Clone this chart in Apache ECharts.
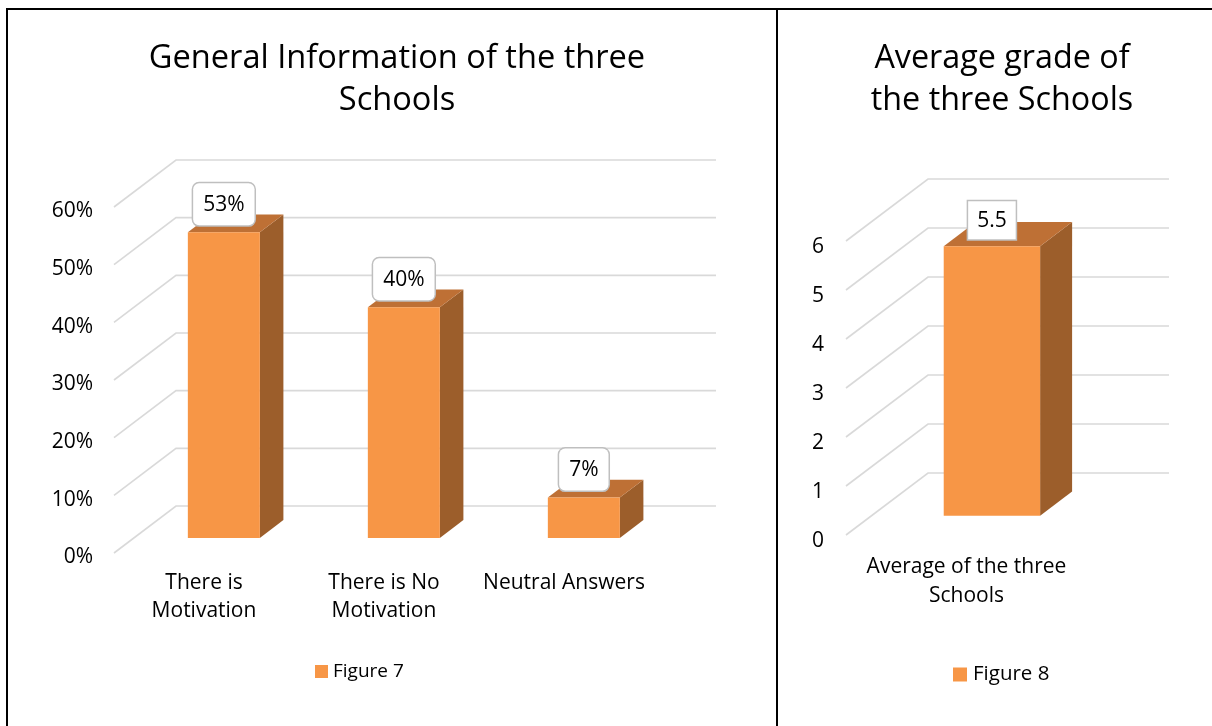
<!DOCTYPE html>
<html><head><meta charset="utf-8">
<script src="https://cdn.jsdelivr.net/npm/echarts@6/dist/echarts.min.js"></script>
<style>html,body{margin:0;padding:0;background:#fff}#c{width:1212px;height:726px}</style>
</head><body><div id="c"></div>
<script>
// ---- data ----
const leftTitle = 'General Information of the three\nSchools';
const leftCategories = ['There is\nMotivation', 'There is No\nMotivation', 'Neutral Answers'];
const leftValues = [0.53, 0.40, 0.07];
const leftLabels = ['53%', '40%', '7%'];
const leftTicks = [0, 0.1, 0.2, 0.3, 0.4, 0.5, 0.6];
const leftSeriesName = 'Figure 7';

const rightTitle = 'Average grade of\nthe three Schools';
const rightCategories = ['Average of the three\nSchools'];
const rightValues = [5.5];
const rightLabels = ['5.5'];
const rightTicks = [0, 1, 2, 3, 4, 5, 6];
const rightSeriesName = 'Figure 8';

// ---- style ----
const FONT = 'Open Sans';
const TEXT = '#000';
const FRONT = '#F79646', TOP = '#BE7035', SIDE = '#9C5E2B', GRIDC = '#D9D9D9';
const FS = 21;

function wallRenderer(depth) {
  return function (params, api) {
    const cs = params.coordSys;
    const y = api.coord([0, api.value(1)])[1];
    const x0 = cs.x;
    return {
      type: 'polyline', silent: true,
      shape: { points: [[x0, y], [x0 + depth[0], y + depth[1]], [x0 + cs.width + depth[0], y + depth[1]]] },
      style: { stroke: GRIDC, lineWidth: 1.6, fill: null }
    };
  };
}

function barRenderer(depth, d0, d1, frac, labels, radius, pad) {
  return function (params, api) {
    const i = api.value(0), v = api.value(1);
    const base = api.coord([i, 0]);
    const topP = api.coord([i, v]);
    const band = api.size([1, 0])[0];
    const w = band * frac;
    const ox = depth[0] * d0, oy = depth[1] * d0;
    const dx = depth[0] * (d1 - d0), dy = depth[1] * (d1 - d0);
    const xl = base[0] + ox - w / 2, xr = xl + w;
    const yb = base[1] + oy, yt = topP[1] + oy;
    return {
      type: 'group', children: [
        { type: 'polygon', shape: { points: [[xr, yt], [xr + dx, yt + dy], [xr + dx, yb + dy], [xr, yb]] }, style: { fill: SIDE } },
        { type: 'polygon', shape: { points: [[xl, yt], [xr, yt], [xr + dx, yt + dy], [xl + dx, yt + dy]] }, style: { fill: TOP } },
        { type: 'rect', shape: { x: xl, y: yt, width: w, height: yb - yt }, style: { fill: FRONT } },
        {
          type: 'text', x: (xl + xr) / 2, y: yt - 7, z2: 10,
          style: {
            text: labels[params.dataIndex], fontSize: FS, fontFamily: FONT, fill: TEXT,
            align: 'center', verticalAlign: 'bottom',
            backgroundColor: '#fff', borderColor: '#BFBFBF', borderWidth: 1.5,
            borderRadius: radius, padding: pad
          }
        }
      ]
    };
  };
}

const axisText = { fontSize: FS, fontFamily: FONT, color: TEXT };

const option = {
  animation: false,
  backgroundColor: '#fff',
  title: [
    { text: leftTitle, left: 392, top: 33, textAlign: 'center',
      textStyle: { fontSize: 32.6, fontWeight: 'normal', fontFamily: FONT, color: TEXT, lineHeight: 42 } },
    { text: rightTitle, left: 997, top: 33, textAlign: 'center',
      textStyle: { fontSize: 32.3, fontWeight: 'normal', fontFamily: FONT, color: TEXT, lineHeight: 42 } }
  ],
  legend: [
    { left: 310, top: 657, itemWidth: 13, itemHeight: 13, itemGap: 10,
      data: [{ name: leftSeriesName, icon: 'rect', itemStyle: { color: FRONT } }],
      textStyle: { fontSize: 19, fontFamily: FONT, color: TEXT, padding: [0, 0, 0, 0] } },
    { left: 948, top: 659, itemWidth: 14, itemHeight: 14, itemGap: 10,
      data: [{ name: rightSeriesName, icon: 'rect', itemStyle: { color: FRONT } }],
      textStyle: { fontSize: 20.5, fontFamily: FONT, color: TEXT, padding: [0, 0, 0, 1] } }
  ],
  grid: [
    { left: 114, top: 207, width: 540, height: 346 },
    { left: 846, top: 241, width: 241, height: 294 }
  ],
  xAxis: [
    { type: 'category', gridIndex: 0, data: leftCategories,
      axisLine: { show: false }, axisTick: { show: false }, splitLine: { show: false },
      axisLabel: Object.assign({ interval: 0, margin: 16, lineHeight: 28 }, axisText) },
    { type: 'category', gridIndex: 1, data: rightCategories,
      axisLine: { show: false }, axisTick: { show: false }, splitLine: { show: false },
      axisLabel: Object.assign({ interval: 0, margin: 18, lineHeight: 29 }, axisText) }
  ],
  yAxis: [
    { type: 'value', gridIndex: 0, min: 0, max: 0.6, interval: 0.1,
      axisLine: { show: false }, axisTick: { show: false }, splitLine: { show: false },
      axisLabel: Object.assign({ margin: 21, verticalAlign: 'top', lineHeight: 9,
        formatter: v => Math.round(v * 100) + '%' }, axisText) },
    { type: 'value', gridIndex: 1, min: 0, max: 6, interval: 1,
      axisLine: { show: false }, axisTick: { show: false }, splitLine: { show: false },
      axisLabel: Object.assign({ margin: 22, verticalAlign: 'top', lineHeight: 12 }, axisText) }
  ],
  series: [
    { type: 'custom', xAxisIndex: 0, yAxisIndex: 0, z: 1, silent: true,
      renderItem: wallRenderer([62, -47]), data: leftTicks.map(v => [0, v]) },
    { type: 'custom', name: leftSeriesName, xAxisIndex: 0, yAxisIndex: 0, z: 5,
      itemStyle: { color: FRONT },
      renderItem: barRenderer([62, -47], 0.32, 0.70, 0.4, leftLabels, 6, [11, 10, 10, 10]),
      data: leftValues.map((v, i) => [i, v]) },
    { type: 'custom', xAxisIndex: 1, yAxisIndex: 1, z: 1, silent: true,
      renderItem: wallRenderer([82, -62]), data: rightTicks.map(v => [0, v]) },
    { type: 'custom', name: rightSeriesName, xAxisIndex: 1, yAxisIndex: 1, z: 5,
      itemStyle: { color: FRONT },
      renderItem: barRenderer([82, -62], 0.31, 0.70, 0.4, rightLabels, 0, [9, 9, 8, 9]),
      data: rightValues.map((v, i) => [i, v]) }
  ],
  graphic: [
    { type: 'line', shape: { x1: 6, y1: 9, x2: 1212, y2: 9 }, style: { stroke: '#000', lineWidth: 2 }, z: 100 },
    { type: 'line', shape: { x1: 7, y1: 8, x2: 7, y2: 726 }, style: { stroke: '#000', lineWidth: 2 }, z: 100 },
    { type: 'line', shape: { x1: 777, y1: 8, x2: 777, y2: 726 }, style: { stroke: '#000', lineWidth: 2 }, z: 100 }
  ]
};

const chart = echarts.init(document.getElementById('c'), null, { renderer: 'canvas' });
chart.setOption(option);
</script>
</body></html>
